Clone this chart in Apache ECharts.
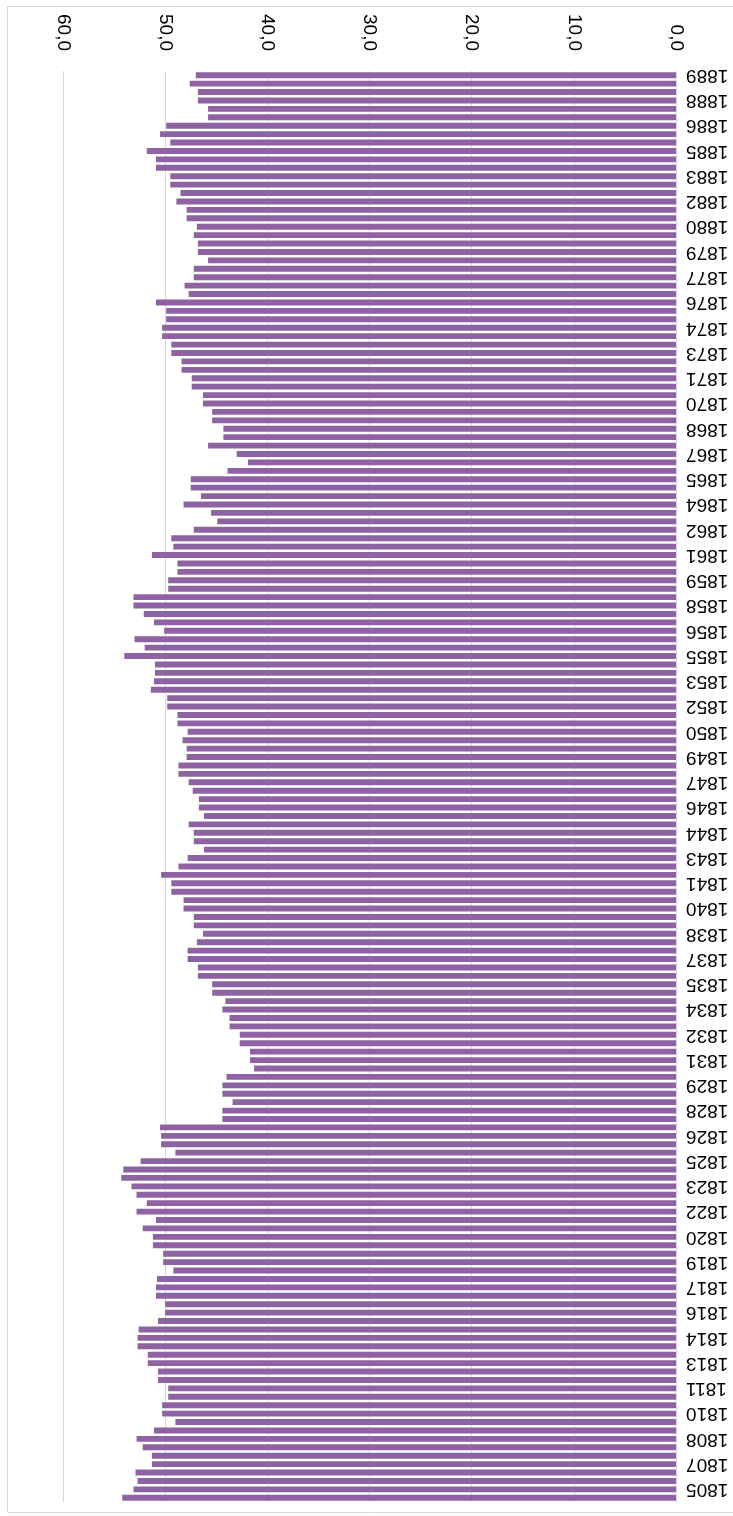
<!DOCTYPE html>
<html>
<head>
<meta charset="utf-8">
<script src="https://cdn.jsdelivr.net/npm/echarts@6/dist/echarts.min.js"></script>
<style>
html,body{margin:0;padding:0;background:#fff;}
#chart{width:733px;height:1516px;}
</style>
</head>
<body>
<div id="chart"></div>
<script>
// Categories: two observations per year, 1805 .. 1889
const categories = [
"1805","1805","1806","1806","1807","1807","1808","1808","1809","1809",
"1810","1810","1811","1811","1812","1812","1813","1813","1814","1814",
"1815","1815","1816","1816","1817","1817","1818","1818","1819","1819",
"1820","1820","1821","1821","1822","1822","1823","1823","1824","1824",
"1825","1825","1826","1826","1827","1827","1828","1828","1829","1829",
"1830","1830","1831","1831","1832","1832","1833","1833","1834","1834",
"1835","1835","1836","1836","1837","1837","1838","1838","1839","1839",
"1840","1840","1841","1841","1842","1842","1843","1843","1844","1844",
"1845","1845","1846","1846","1847","1847","1848","1848","1849","1849",
"1850","1850","1851","1851","1852","1852","1853","1853","1854","1854",
"1855","1855","1856","1856","1857","1857","1858","1858","1859","1859",
"1860","1860","1861","1861","1862","1862","1863","1863","1864","1864",
"1865","1865","1866","1866","1867","1867","1868","1868","1869","1869",
"1870","1870","1871","1871","1872","1872","1873","1873","1874","1874",
"1875","1875","1876","1876","1877","1877","1878","1878","1879","1879",
"1880","1880","1881","1881","1882","1882","1883","1883","1884","1884",
"1885","1885","1886","1886","1887","1887","1888","1888","1889","1889"
];

const values = [
54.2,53.1,52.7,52.9,51.3,51.3,52.2,52.8,51.1,49.0,
50.3,50.3,49.7,49.7,50.7,50.7,51.7,51.7,52.7,52.7,
52.6,50.7,50.0,50.0,50.9,50.9,50.8,49.2,50.2,50.2,
51.2,51.2,52.2,50.9,52.8,51.8,52.8,53.3,54.3,54.1,
52.4,49.0,50.4,50.4,50.5,44.4,44.4,43.4,44.4,44.4,
44.0,41.3,41.7,41.7,42.7,42.7,43.7,43.7,44.4,44.1,
45.4,45.4,46.8,46.8,47.8,47.8,46.9,46.3,47.2,47.2,
48.2,48.2,49.4,49.4,50.4,48.7,47.8,46.2,47.2,47.2,
47.7,46.2,46.7,46.7,47.3,47.7,48.7,48.7,47.9,47.9,
48.3,47.8,48.8,48.8,49.8,49.8,51.4,51.1,51.0,51.0,
54.0,52.0,53.0,50.1,51.1,52.1,53.1,53.1,49.7,49.7,
48.8,48.8,51.3,49.2,49.4,47.2,44.9,45.5,48.2,46.5,
47.5,47.5,43.9,41.9,43.0,45.8,44.3,44.3,45.4,45.4,
46.3,46.3,47.4,47.4,48.4,48.4,49.4,49.4,50.3,50.3,
49.9,49.9,50.9,47.7,48.1,47.2,47.2,45.8,46.8,46.8,
47.2,46.9,47.9,47.9,48.9,48.5,49.5,49.5,50.9,50.9,
51.8,49.5,50.5,49.9,45.8,45.8,46.8,46.8,47.6,47.0
];

const valueTicks = { min: 0, max: 60, interval: 10 };

const chart = echarts.init(document.getElementById('chart'), null, { renderer: 'canvas' });
chart.setOption({
  animation: false,
  backgroundColor: '#ffffff',
  textStyle: { fontFamily: 'Liberation Sans, Arial, sans-serif' },
  graphic: [{
    type: 'rect',
    left: 5, top: 4,
    shape: { width: 760, height: 1506 },
    style: { fill: 'none', stroke: '#d9d9d9', lineWidth: 1 },
    silent: true
  }],
  grid: { left: 63, right: 57, top: 71, bottom: 14, containLabel: false },
  xAxis: {
    type: 'value',
    position: 'top',
    inverse: true,
    min: valueTicks.min,
    max: valueTicks.max,
    interval: valueTicks.interval,
    axisLine: { show: false },
    axisTick: { show: false },
    splitLine: { show: true, lineStyle: { color: '#d9d9d9', width: 1 } },
    axisLabel: {
      rotate: 90,
      margin: 20,
      color: '#000',
      fontSize: 19,
      fontFamily: 'Liberation Sans, Arial, sans-serif',
      formatter: v => v.toFixed(1).replace('.', ',')
    }
  },
  yAxis: {
    type: 'category',
    position: 'right',
    data: categories,
    axisLine: { show: true, lineStyle: { color: '#d9d9d9' } },
    axisTick: { show: false },
    axisLabel: {
      rotate: 180,
      margin: 10,
      color: '#000',
      fontSize: 19,
      fontFamily: 'Liberation Sans, Arial, sans-serif',
      interval: (idx) => idx % 3 === 1
    }
  },
  series: [{
    type: 'bar',
    data: values,
    barCategoryGap: '30%',
    itemStyle: { color: '#8f63a3' }
  }]
});
</script>
</body>
</html>
